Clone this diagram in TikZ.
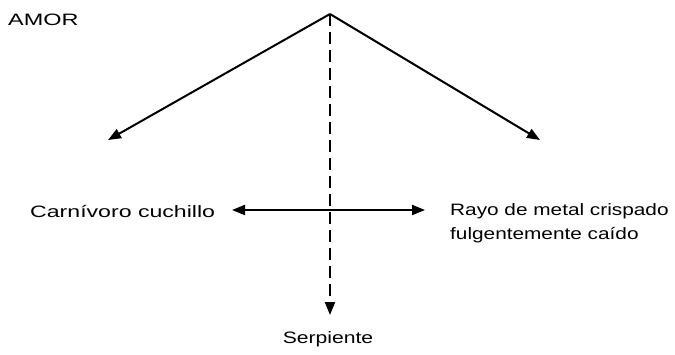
\documentclass[tikz,border=0pt]{standalone}
\usepackage{fontspec}
\usepackage{graphicx}
\setmainfont{Liberation Sans}
\usetikzlibrary{arrows.meta}
\begin{document}
\begin{tikzpicture}[x=1pt,y=-1pt,
  conn/.style={line width=2pt,-{Triangle[length=13pt,width=10pt]}},
  both/.style={line width=2pt,{Triangle[length=13pt,width=10pt]}-{Triangle[length=13pt,width=10pt]}},
  lbl/.style={inner sep=0pt,font=\fontsize{16.5}{24}\selectfont,align=left}]
\useasboundingbox (0,0) rectangle (675,354);
\node[lbl,anchor=west] (amor) at (8,20) {\scalebox{1.42}[1]{AMOR}};
\node[lbl,anchor=west] (left) at (30,212) {\scalebox{1.4}[1]{Carnívoro cuchillo}};
\node[lbl,anchor=west] (right) at (450,223) {\scalebox{1.26}[1]{Rayo de metal crispado}\\\scalebox{1.26}[1]{fulgentemente caído}};
\node[lbl] (bottom) at (328,339) {\scalebox{1.28}[1]{Serpiente}};
\coordinate (apex) at (330,14);
\coordinate (lt) at (108,140);
\coordinate (rt) at (540,140);
\coordinate (bt) at (330,315);
\coordinate (hl) at (232,210);
\coordinate (hr) at (425,210);
\draw[conn] (apex) -- (lt);
\draw[conn] (apex) -- (rt);
\draw[conn,dash pattern=on 12pt off 6pt] (apex) -- (bt);
\draw[both] (hl) -- (hr);
\end{tikzpicture}
\end{document}
